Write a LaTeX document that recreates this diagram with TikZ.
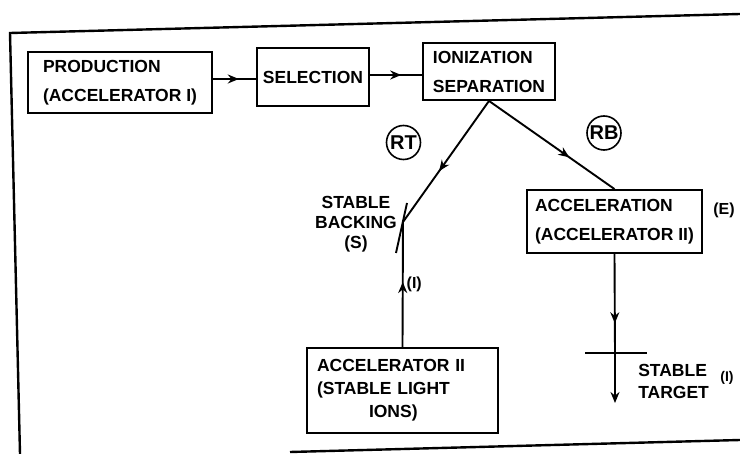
\documentclass[tikz,border=0pt]{standalone}
\usepackage{fontspec}
\setmainfont{Liberation Sans}
\usetikzlibrary{arrows.meta,decorations.markings}
\begin{document}
\begin{tikzpicture}[x=1pt, y=-1pt, line width=1.9pt,
  every node/.style={font=\bfseries\fontsize{17.5}{29}\selectfont},
  blk/.style={draw,align=left,inner sep=0pt},
  tag/.style={draw,circle,minimum size=34pt,inner sep=0pt,line width=1.6pt,
    font=\bfseries\fontsize{20}{22}\selectfont},
  midarrow/.style={postaction={decorate},decoration={markings,
    mark=at position #1 with {\arrow{Stealth[length=11pt,width=9pt]}}}}]
\useasboundingbox (0,0) rectangle (740,454);
% frame
\draw[line width=2.4pt] (20,454) -- (10,33) -- (740,14);
\draw[line width=2.4pt] (290,452) -- (740,440);
% boxes
\node[blk,minimum width=184pt,minimum height=61pt] (prod) at (120,82.5) {PRODUCTION\\(ACCELERATOR I)};
\node[blk,minimum width=112pt,minimum height=58pt] (sel) at (313,77) {SELECTION};
\node[blk,minimum width=132pt,minimum height=57pt] (ion) at (489,71.5) {IONIZATION\\SEPARATION};
\node[blk,minimum width=175pt,minimum height=63pt] (accel) at (614.5,221.5) {ACCELERATION\\(ACCELERATOR II)};
\node[blk,text width=171pt,inner xsep=10pt,minimum height=85pt,
  font=\bfseries\fontsize{17.5}{23}\selectfont] (acctwo) at (402.5,390.5)
  {ACCELERATOR II\\(STABLE LIGHT\\\hspace*{52pt}IONS)};
% targets
\coordinate (bk) at (403,222);
\coordinate (tgt) at (615,353);
\coordinate (tgtend) at (615,403);
\draw (396,253) -- (407,203);
\draw (585,353) -- (647,353);
% labels
\node[tag] (rt) at (403.5,142.5) {RT};
\node[tag] (rb) at (604,133) {RB};
\node[align=center,font=\bfseries\fontsize{17.5}{20}\selectfont] (bklab) at (356,224) {STABLE\\BACKING\\(S)};
\node[align=left,anchor=west,font=\bfseries\fontsize{17.5}{22}\selectfont] (tgtlab) at (634,381) {STABLE\\TARGET};
\node[font=\bfseries\fontsize{14}{16}\selectfont] (tgtI) at (727,378) {(I)};
\node[font=\bfseries\fontsize{16}{18}\selectfont] (accE) at (724,210) {(E)};
% connectors
\draw[midarrow=0.6] (prod.east |- 0,79) -- (sel.west |- 0,79);
\draw[midarrow=0.6] (sel.east |- 0,75) -- (ion.west |- 0,75);
\draw[midarrow=0.58] (ion.south) -- (bk);
\draw[midarrow=0.64] (ion.south) -- (accel.north);
\draw[midarrow=0.52] (acctwo.north) -- (bk) node[pos=0.5,right,inner sep=3pt,font=\bfseries\fontsize{16}{18}\selectfont] {(I)};
\draw[midarrow=0.7] (accel.south) -- (tgt);
\draw[-{Stealth[length=11pt,width=9pt]}] (tgt) -- (tgtend);
\end{tikzpicture}
\end{document}
